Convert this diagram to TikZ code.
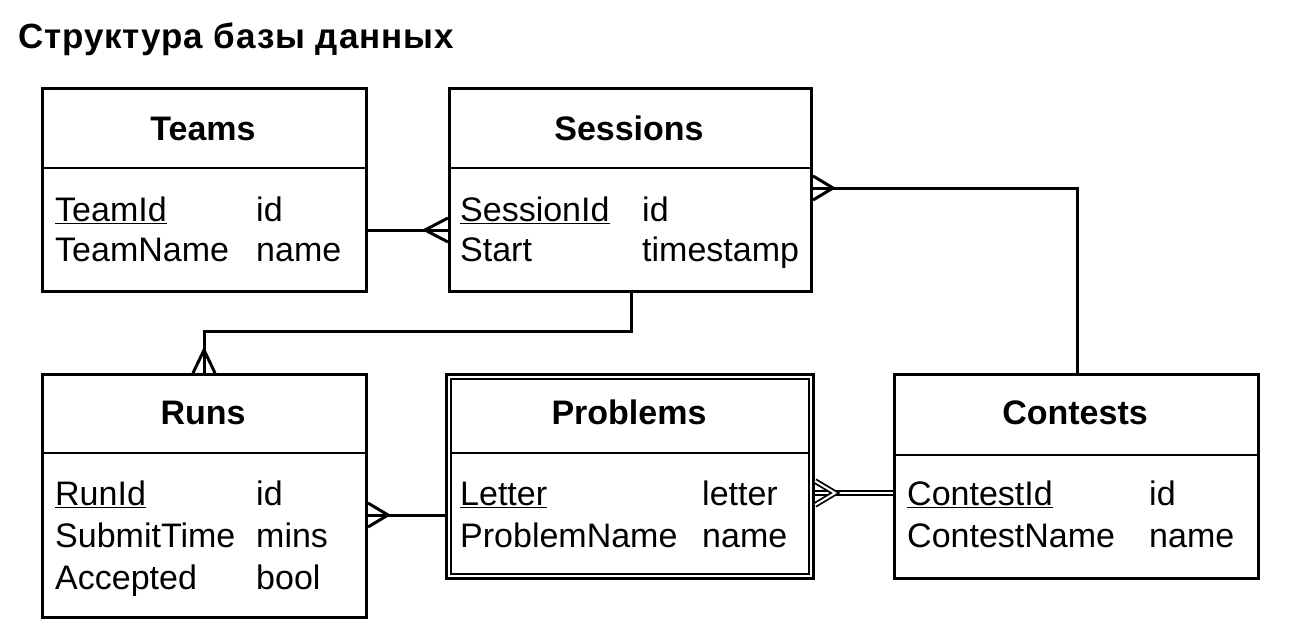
\documentclass[tikz,border=0pt]{standalone}
\usepackage{fontspec}
\setmainfont{Liberation Sans}
\newfontfamily\titlefont[LetterSpace=2.5]{Liberation Sans}
\begin{document}
\begin{tikzpicture}[x=1pt,y=-1pt,
  box/.style={draw,line width=3pt,rectangle,anchor=north west,inner sep=0pt},
  sep/.style={line width=1.5pt},
  conn/.style={line width=3pt},
  hdr/.style={font=\fontsize{34}{40}\selectfont\bfseries,anchor=base,inner sep=0pt},
  fld/.style={font=\fontsize{34}{40}\selectfont,anchor=base west,inner sep=0pt},
]
\useasboundingbox (0,0) rectangle (1302,642);
\node[anchor=base west,inner sep=0pt,font=\titlefont\fontsize{35}{40}\selectfont\bfseries] (title) at (18,49) {Структура базы данных};

% Teams
\node[box,minimum width=324pt,minimum height=203pt] (teams) at (41,87) {};
\draw[sep] (teams.west |- 0,168) -- (teams.east |- 0,168);
\node[hdr] (teamsh) at (203,140) {Teams};
\node[fld] (t1) at (55,221) {\underline{TeamId}};
\node[fld] (t1t) at (256,221) {id};
\node[fld] (t2) at (55,261) {TeamName};
\node[fld] (t2t) at (256,261) {name};

% Sessions
\node[box,minimum width=362pt,minimum height=203pt] (sess) at (448,87) {};
\draw[sep] (sess.west |- 0,168) -- (sess.east |- 0,168);
\node[hdr] (sessh) at (629,140) {Sessions};
\node[fld] (s1) at (460,221) {\underline{SessionId}};
\node[fld] (s1t) at (642,221) {id};
\node[fld] (s2) at (460,261) {Start};
\node[fld] (s2t) at (642,261) {timestamp};

% Runs
\node[box,minimum width=324pt,minimum height=243pt] (runs) at (41,373) {};
\draw[sep] (runs.west |- 0,453) -- (runs.east |- 0,453);
\node[hdr] (runsh) at (203,424) {Runs};
\node[fld] (r1) at (55,505) {\underline{RunId}};
\node[fld] (r1t) at (256,505) {id};
\node[fld] (r2) at (55,547) {SubmitTime};
\node[fld] (r2t) at (256,547) {mins};
\node[fld] (r3) at (55,589) {Accepted};
\node[fld] (r3t) at (256,589) {bool};

% Problems
\node[box,minimum width=367pt,minimum height=204pt] (prob) at (445,373) {};
\draw[line width=2.4pt] ([shift={(6pt,-6pt)}]prob.north west) rectangle ([shift={(-6pt,6pt)}]prob.south east);
\draw[sep] ([xshift=6pt]prob.west |- 0,453) -- ([xshift=-6pt]prob.east |- 0,453);
\node[hdr] (probh) at (629,424) {Problems};
\node[fld] (p1) at (460,505) {\underline{Letter}};
\node[fld] (p1t) at (702,505) {letter};
\node[fld] (p2) at (460,547) {ProblemName};
\node[fld] (p2t) at (702,547) {name};

% Contests
\node[box,minimum width=364pt,minimum height=204pt] (cont) at (893,373) {};
\draw[sep] (cont.west |- 0,455) -- (cont.east |- 0,455);
\node[hdr] (conth) at (1075,424) {Contests};
\node[fld] (c1) at (907,505) {\underline{ContestId}};
\node[fld] (c1t) at (1149,505) {id};
\node[fld] (c2) at (907,547) {ContestName};
\node[fld] (c2t) at (1149,547) {name};

% Teams - Sessions
\draw[conn] (teams.east |- 0,230) -- (sess.west |- 0,230);
\draw[conn] (sess.west |- 0,218) -- (425,230) -- (sess.west |- 0,242);

% Sessions - Runs
\coordinate (sr1) at (631,331);
\coordinate (sr2) at (204,331);
\draw[conn] (sess.south -| sr1) -- (sr1) -- (sr2) -- (runs.north -| sr2);
\draw[conn] (193,373) -- (204,350) -- (215,373);

% Sessions - Contests
\coordinate (sc1) at (1077,188);
\draw[conn] (cont.north -| sc1) -- (sc1) -- (sess.east |- sc1);
\draw[conn] (sess.east |- 0,176) -- (833,188) -- (sess.east |- 0,200);

% Runs - Problems
\draw[conn] (runs.east |- 0,515) -- (prob.west |- 0,515);
\draw[conn] (runs.east |- 0,503) -- (388,515) -- (runs.east |- 0,527);

% Problems - Contests (identifying)
\draw[double,double distance=2.5pt,line width=2pt] (prob.east |- 0,493) -- (cont.west |- 0,493);
\draw[double,double distance=2pt,line width=1.8pt] (prob.east |- 0,481) -- (835,493) -- (prob.east |- 0,505);
\end{tikzpicture}
\end{document}
